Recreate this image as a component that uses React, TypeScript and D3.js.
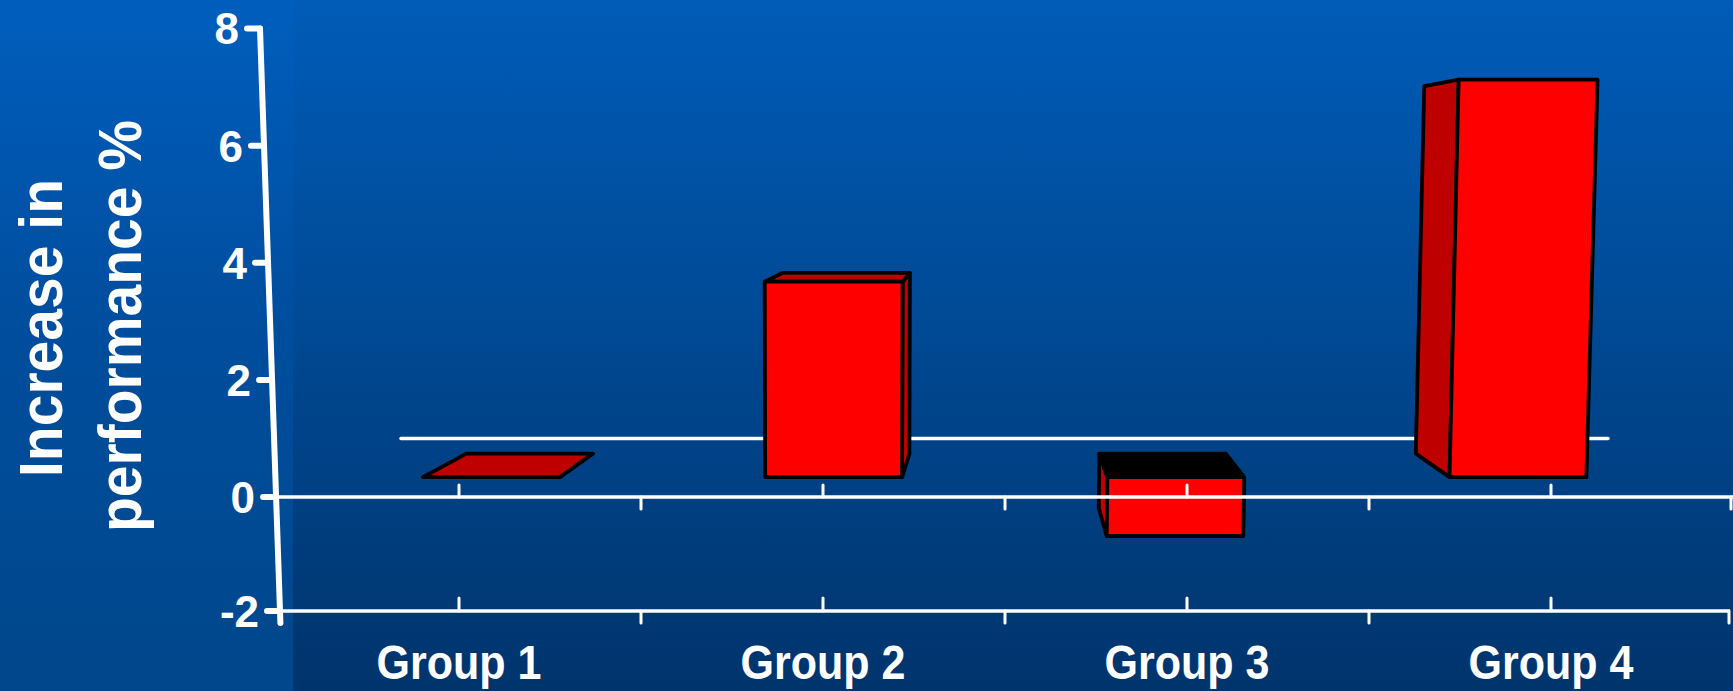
import React from "react";
import * as d3 from "d3";

const groups = ["Group 1", "Group 2", "Group 3", "Group 4"];
const values = [0, 3.55, -1.1, 7.22];
const yTicks = [-2, 0, 2, 4, 6, 8];
const yTitleLines = ["Increase in", "performance %"];
const backLineValue = 1;

const W = 1733;
const H = 691;

export default function App() {
  const x = d3.scaleBand<string>().domain(groups).range([277, 1733]).padding(0);
  const step = x.step();
  const y = d3.scaleLinear().domain([-2, 0, 8]).range([611, 497, 28.6]);

  // perspective
  const VP = { x: 1000, y: 165 };
  const sF = 0.94;
  const sB = 0.94 * 0.925;
  const proj = (px: number, py: number, s: number): [number, number] => [
    VP.x + (px - VP.x) * s,
    VP.y + (py - VP.y) * s,
  ];
  const y0 = y(0);
  const lean = (px: number, py: number) => px + (px - 820) * 0.000035 * (y0 - py);
  const F = (px: number, py: number) => proj(lean(px, py), py, sF);
  const B = (px: number, py: number) => proj(lean(px, py), py, sB);
  const pts = (a: [number, number][]) => a.map((p) => p.join(",")).join(" ");

  // y axis (slanted)
  const axTop = 260, axBot = 280;
  const ax = (yy: number) => axTop + ((yy - y(8)) * (axBot - axTop)) / (y(-2) - y(8));

  const center = (g: string) => (x(g) as number) + step / 2;
  const hw = step * 0.2;

  const bars = groups.map((g, i) => {
    const v = values[i];
    const cx = center(g);
    const xl = cx - hw, xr = cx + hw;
    const y1 = y(v);
    const ymin = Math.min(y0, y1);
    const ymax = Math.max(y0, y1);
    const front = [F(xl, ymin), F(xr, ymin), F(xr, ymax), F(xl, ymax)];
    const fcx = F(cx, y0)[0];
    let side: [number, number][] | null = null;
    if (ymax - ymin > 1) {
      side = fcx < VP.x
        ? [F(xr, ymin), F(xr, ymax), B(xr, ymax), B(xr, ymin)]
        : [F(xl, ymin), F(xl, ymax), B(xl, ymax), B(xl, ymin)];
    }
    let cap: [number, number][] | null = null;
    if (F(cx, ymin)[1] > VP.y) {
      cap = [F(xl, ymin), F(xr, ymin), B(xr, ymin), B(xl, ymin)];
    }
    return { g, v, front, side, cap, hasFront: ymax - ymin > 1 };
  });

  const font = "'Liberation Sans', Arial, Helvetica, sans-serif";
  const firstC = center(groups[0]);
  const lastC = center(groups[groups.length - 1]);

  return (
    <svg
      width={W}
      height={H}
      style={{ position: "absolute", left: 0, top: 0, display: "block" }}
    >
      <defs>
        <linearGradient id="slideBg" x1="0" y1="0" x2="0" y2="1">
          <stop offset="0" stopColor="#005ebd" />
          <stop offset="0.45" stopColor="#004e9f" />
          <stop offset="1" stopColor="#00478b" />
        </linearGradient>
        <linearGradient id="panelBg" x1="0" y1="0" x2="0" y2="1">
          <stop offset="0" stopColor="#005cb8" />
          <stop offset="0.45" stopColor="#004a96" />
          <stop offset="1" stopColor="#00346c" />
        </linearGradient>
      </defs>
      <rect x={0} y={0} width={W} height={H} fill="url(#slideBg)" />
      <rect x={293} y={0} width={W - 293} height={H} fill="url(#panelBg)" />

      {/* back line */}
      <line
        x1={firstC - 58}
        x2={lastC + 57}
        y1={y(backLineValue)}
        y2={y(backLineValue)}
        stroke="#fff"
        strokeWidth={3.5}
        strokeLinecap="round"
      />

      {/* bars */}
      {bars.map((b) => (
        <g key={b.g} stroke="#000" strokeWidth={3.8} strokeLinejoin="round">
          {b.side && <polygon points={pts(b.side)} fill="#bf0000" />}
          {b.cap && <polygon points={pts(b.cap)} fill={b.v < 0 ? "#000" : "#bf0000"} />}
          {b.hasFront && <polygon points={pts(b.front)} fill="#ff0000" />}
        </g>
      ))}

      {/* zero line */}
      <line x1={ax(y0)} x2={W} y1={y0} y2={y0} stroke="#fff" strokeWidth={3.5} />
      {groups.map((g) => (
        <line key={"zt" + g} x1={center(g)} x2={center(g)} y1={y0 - 12} y2={y0} stroke="#fff" strokeWidth={3} strokeLinecap="round" />
      ))}
      {groups.map((g) => {
        const bx = Math.min((x(g) as number) + step, W - 2);
        return <line key={"zb" + g} x1={bx} x2={bx} y1={y0} y2={y0 + 12} stroke="#fff" strokeWidth={3} strokeLinecap="round" />;
      })}

      {/* bottom axis line */}
      <line x1={ax(y(-2))} x2={1730} y1={y(-2)} y2={y(-2)} stroke="#fff" strokeWidth={3.5} />
      {groups.map((g) => (
        <line key={"bt" + g} x1={center(g)} x2={center(g)} y1={y(-2) - 13} y2={y(-2)} stroke="#fff" strokeWidth={3} strokeLinecap="round" />
      ))}
      {groups.map((g) => {
        const bx = Math.min((x(g) as number) + step, 1729);
        return <line key={"bb" + g} x1={bx} x2={bx} y1={y(-2)} y2={y(-2) + 12} stroke="#fff" strokeWidth={3} strokeLinecap="round" />;
      })}

      {/* y axis */}
      <line x1={axTop} y1={y(8)} x2={ax(y(-2) + 12)} y2={y(-2) + 12} stroke="#fff" strokeWidth={6} strokeLinecap="round" />
      {yTicks.map((t) => {
        const yy = y(t);
        const a = ax(yy);
        return (
          <g key={"yt" + t}>
            <line x1={a - 13} x2={a} y1={yy} y2={yy} stroke="#fff" strokeWidth={6} strokeLinecap="round" />
            <text
              x={a - 21}
              y={yy}
              dy="0.36em"
              textAnchor="end"
              fill="#fff"
              fontFamily={font}
              fontWeight="bold"
              fontSize={44}
            >
              {t}
            </text>
          </g>
        );
      })}

      {/* x labels */}
      {groups.map((g) => (
        <text
          key={"xl" + g}
          x={center(g)}
          y={679}
          textAnchor="middle"
          fill="#fff"
          fontFamily={font}
          fontWeight="bold"
          fontSize={48}
          textLength={165}
          lengthAdjust="spacingAndGlyphs"
        >
          {g}
        </text>
      ))}

      {/* y title */}
      <g transform="translate(62,328) rotate(-90)">
        <text
          x={0}
          y={0}
          textAnchor="middle"
          fill="#fff"
          fontFamily={font}
          fontWeight="bold"
          fontSize={61}
          textLength={298}
          lengthAdjust="spacingAndGlyphs"
        >
          {yTitleLines[0]}
        </text>
      </g>
      <g transform="translate(141,326) rotate(-90)">
        <text
          x={0}
          y={0}
          textAnchor="middle"
          fill="#fff"
          fontFamily={font}
          fontWeight="bold"
          fontSize={61}
          textLength={412}
          lengthAdjust="spacingAndGlyphs"
        >
          {yTitleLines[1]}
        </text>
      </g>
    </svg>
  );
}
